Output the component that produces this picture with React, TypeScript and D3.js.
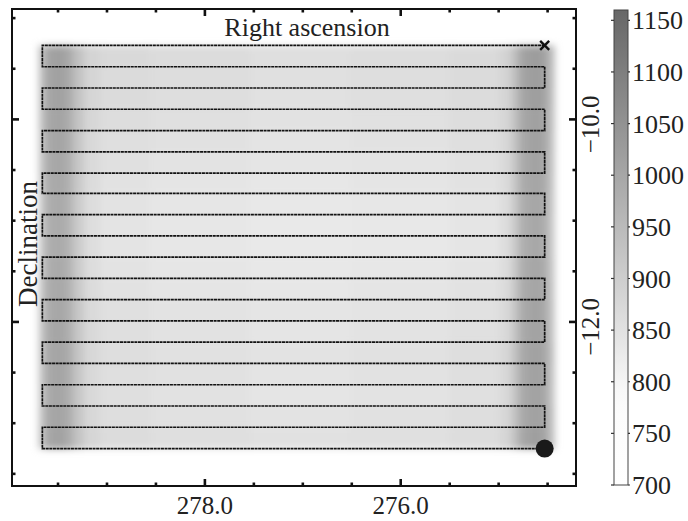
import React from "react";
import * as d3 from "d3";

// ---- data ----
const raTicksMajor = [278.0, 276.0];
const raTicksMinor = [279.5, 279.0, 278.5, 277.5, 277.0, 276.5, 275.5, 275.0, 274.5];
const decTicksMajor = [-10.0, -12.0];
const decTicksMinor = [-9.0, -9.5, -10.5, -11.0, -11.5, -12.5, -13.0, -13.5];
const colorbarTicks = [700, 750, 800, 850, 900, 950, 1000, 1050, 1100, 1150];

// scan lines (declination of each horizontal pass) and RA ends
const scanDec = [
  -9.27, -9.48, -9.69, -9.9, -10.11, -10.32, -10.53, -10.73, -10.94, -11.15,
  -11.36, -11.57, -11.78, -11.99, -12.2, -12.41, -12.62, -12.83, -13.04, -13.25,
];
const scanRaRight = 274.53;
const scanRaLeft = 279.66;

// intensity field: RA cell edges, base value per column, offset per row band
const fieldRaEdges = [
  279.7, 279.64, 279.58, 279.5, 279.42, 279.34, 279.23, 279.07, 278.56, 277.54,
  276.52, 275.5, 274.99, 274.87, 274.79, 274.68, 274.58, 274.5, 274.43,
];
const fieldColValues = [
  915, 985, 1000, 1000, 975, 915, 870, 855, 848, 842, 846, 854, 872, 930,
  995, 1010, 1000, 930,
];
const fieldRowOffsets = [15, 12, 10, 6, 2, -2, -6, -10, -12, -12, -10, -6, -2, 0, 4, 2, 0, 4, 8];

const W = 688;
const H = 521;
const L = 12, R = 576, T = 9, B = 486;
const FONT = "'Liberation Serif', 'DejaVu Serif', serif";

export default function App() {
  const x = d3.scaleLinear().domain([279.97, 274.21]).range([L, R]);
  const y = d3.scaleLinear().domain([-8.91, -13.62]).range([T, B]);
  const color = d3
    .scaleLinear<string>()
    .domain([700, 785, 1160])
    .range(["#ffffff", "#fbfbfb", "#676767"])
    .interpolate(d3.interpolateRgb);

  const cbX0 = 614, cbX1 = 628;
  const cb = d3.scaleLinear().domain([700, 1160]).range([485, 10]);

  // field cells
  const cells: { x0: number; x1: number; y0: number; y1: number; v: number }[] = [];
  for (let r = 0; r < scanDec.length - 1; r++) {
    for (let c = 0; c < fieldColValues.length; c++) {
      const xa = x(fieldRaEdges[c]);
      const xb = x(fieldRaEdges[c + 1]);
      const ya = y(scanDec[r]);
      const yb = y(scanDec[r + 1]);
      cells.push({
        x0: Math.min(xa, xb),
        x1: Math.max(xa, xb),
        y0: ya,
        y1: yb,
        v: fieldColValues[c] + fieldRowOffsets[r],
      });
    }
  }

  // scan path
  const pts: [number, number][] = [];
  scanDec.forEach((d, i) => {
    if (i % 2 === 0) {
      pts.push([x(scanRaRight), y(d)], [x(scanRaLeft), y(d)]);
    } else {
      pts.push([x(scanRaLeft), y(d)], [x(scanRaRight), y(d)]);
    }
  });
  const path = d3.line()(pts) || "";
  const start = pts[0];
  const end = pts[pts.length - 1];

  const gradStops = d3.range(0, 1.0001, 0.05).map((t) => {
    const v = 700 + t * 460;
    return { off: t, c: color(v) };
  });

  const tickW = 2.6;
  return (
    <svg
      width={W}
      height={H}
      style={{ position: "absolute", left: 0, top: 0, background: "#fff" }}
      fontFamily={FONT}
    >
      <defs>
        <filter id="blur" filterUnits="userSpaceOnUse" x={0} y={0} width={W} height={H}>
          <feGaussianBlur stdDeviation={3.5} />
        </filter>
        <linearGradient id="cbgrad" x1="0" y1="1" x2="0" y2="0">
          {gradStops.map((s, i) => (
            <stop key={i} offset={s.off} stopColor={s.c} />
          ))}
        </linearGradient>
      </defs>

      {/* intensity field */}
      <g filter="url(#blur)">
        {cells.map((c, i) => (
          <rect
            key={i}
            x={c.x0}
            y={c.y0}
            width={c.x1 - c.x0 + 0.5}
            height={c.y1 - c.y0 + 0.5}
            fill={color(c.v)}
          />
        ))}
      </g>

      {/* scan path */}
      <path d={path} fill="none" stroke="#111" strokeWidth={1.7} strokeDasharray="3 0.6" />
      <g stroke="#111" strokeWidth={2.4}>
        <line x1={start[0] - 4.5} y1={start[1] - 4.5} x2={start[0] + 4.5} y2={start[1] + 4.5} />
        <line x1={start[0] - 4.5} y1={start[1] + 4.5} x2={start[0] + 4.5} y2={start[1] - 4.5} />
      </g>
      <circle cx={end[0]} cy={end[1]} r={9} fill="#1a1a1a" />

      {/* frame */}
      <rect x={L} y={T} width={R - L} height={B - T} fill="none" stroke="#111" strokeWidth={2} />

      {/* ticks */}
      <g stroke="#111" strokeWidth={tickW}>
        {raTicksMajor.map((t) => (
          <g key={"xM" + t}>
            <line x1={x(t)} x2={x(t)} y1={B} y2={B - 7} />
            <line x1={x(t)} x2={x(t)} y1={T} y2={T + 7} />
          </g>
        ))}
        {raTicksMinor.map((t) => (
          <g key={"xm" + t}>
            <line x1={x(t)} x2={x(t)} y1={B} y2={B - 3.5} />
            <line x1={x(t)} x2={x(t)} y1={T} y2={T + 3.5} />
          </g>
        ))}
        {decTicksMajor.map((t) => (
          <g key={"yM" + t}>
            <line y1={y(t)} y2={y(t)} x1={L} x2={L + 7} />
            <line y1={y(t)} y2={y(t)} x1={R} x2={R - 7} />
          </g>
        ))}
        {decTicksMinor.map((t) => (
          <g key={"ym" + t}>
            <line y1={y(t)} y2={y(t)} x1={L} x2={L + 3.5} />
            <line y1={y(t)} y2={y(t)} x1={R} x2={R - 3.5} />
          </g>
        ))}
      </g>

      {/* axis labels */}
      <g fill="#222" fontSize={25}>
        {raTicksMajor.map((t) => (
          <text key={"xl" + t} x={x(t)} y={514} textAnchor="middle">
            {d3.format(".1f")(t)}
          </text>
        ))}
        {decTicksMajor.map((t) => (
          <text
            key={"yl" + t}
            transform={`translate(599,${y(t) + 5}) rotate(-90)`}
            textAnchor="middle"
          >
            {d3.format(".1f")(t).replace("-", "\u2212")}
          </text>
        ))}
      </g>
      <text x={307} y={36} textAnchor="middle" fontSize={26} fill="#222">
        Right ascension
      </text>
      <text
        transform="translate(37,244) rotate(-90)"
        textAnchor="middle"
        fontSize={27}
        fill="#222"
      >
        Declination
      </text>

      {/* colorbar */}
      <rect
        x={cbX0}
        y={cb(1160)}
        width={cbX1 - cbX0}
        height={cb(700) - cb(1160)}
        fill="url(#cbgrad)"
        stroke="#444"
        strokeWidth={1}
      />
      <g stroke="#333" strokeWidth={1.2}>
        {colorbarTicks.map((t) => (
          <g key={"cbt" + t}>
            <line x1={cbX0 - 3} x2={cbX0} y1={cb(t)} y2={cb(t)} />
            <line x1={cbX1} x2={cbX1 + 2} y1={cb(t)} y2={cb(t)} />
          </g>
        ))}
      </g>
      <g fill="#222" fontSize={26}>
        {colorbarTicks.map((t) => (
          <text key={"cbl" + t} x={632} y={cb(t)} dy="0.35em">
            {t}
          </text>
        ))}
      </g>
    </svg>
  );
}
